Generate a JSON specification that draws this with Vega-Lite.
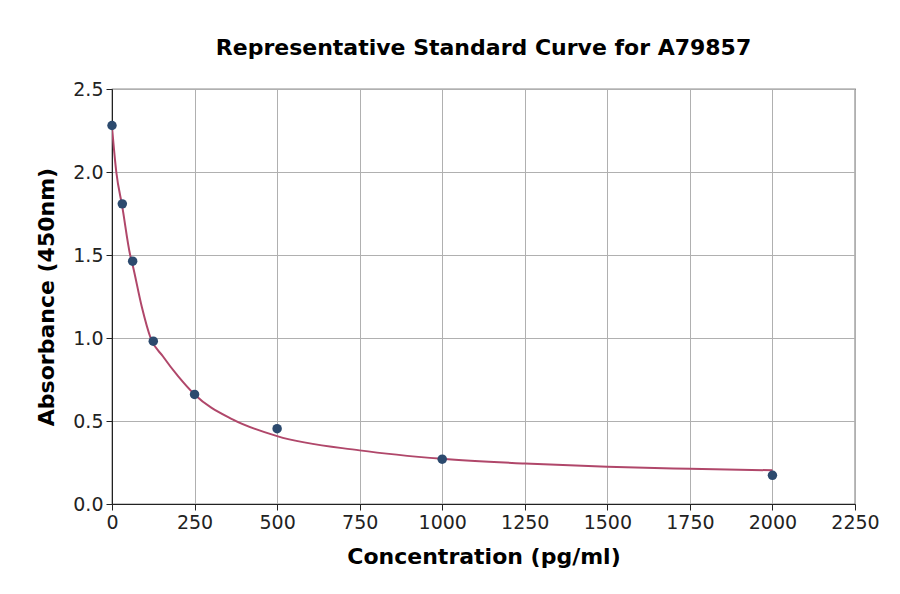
{
  "$schema": "https://vega.github.io/schema/vega-lite/v6.json",
  "width": 743,
  "height": 415,
  "autosize": {"type": "none"},
  "padding": {"left": 112, "top": 89, "right": 45, "bottom": 90},
  "background": "white",
  "title": {
    "text": "Representative Standard Curve for A79857",
    "font": "DejaVu Sans",
    "fontSize": 22,
    "fontWeight": "bold",
    "color": "black",
    "anchor": "middle",
    "offset": 20
  },
  "config": {
    "view": {"stroke": "#222222", "strokeWidth": 1.2},
    "axis": {
      "labelFont": "DejaVu Sans",
      "labelFontSize": 19,
      "labelColor": "#222222",
      "titleFont": "DejaVu Sans",
      "titleFontSize": 22,
      "titleFontWeight": "bold",
      "titleColor": "black",
      "domainColor": "#222222",
      "tickColor": "#222222",
      "tickSize": 6,
      "gridColor": "#b0b0b0",
      "gridWidth": 1,
      "labelPadding": 3,
      "labelFlush": false
    }
  },
  "datasets": {
    "standards": [
      {"conc": 0, "od": 2.28},
      {"conc": 31.25, "od": 1.808},
      {"conc": 62.5, "od": 1.463},
      {"conc": 125, "od": 0.981},
      {"conc": 250, "od": 0.66},
      {"conc": 500, "od": 0.454},
      {"conc": 1000, "od": 0.27},
      {"conc": 2000, "od": 0.173}
    ],
    "fit": [
      {"conc": 0, "od": 2.27},
      {"conc": 13, "od": 2.0},
      {"conc": 31.25, "od": 1.79},
      {"conc": 55, "od": 1.5},
      {"conc": 62.5, "od": 1.44},
      {"conc": 90, "od": 1.19},
      {"conc": 117, "od": 1.0},
      {"conc": 154, "od": 0.89},
      {"conc": 200, "od": 0.77},
      {"conc": 250, "od": 0.66},
      {"conc": 365, "od": 0.51},
      {"conc": 500, "od": 0.409},
      {"conc": 750, "od": 0.323},
      {"conc": 1000, "od": 0.272},
      {"conc": 1250, "od": 0.244},
      {"conc": 1500, "od": 0.224},
      {"conc": 1750, "od": 0.212},
      {"conc": 2000, "od": 0.203}
    ]
  },
  "encoding": {
    "x": {
      "field": "conc",
      "type": "quantitative",
      "title": "Concentration (pg/ml)",
      "scale": {"domain": [0, 2250], "nice": false, "zero": false},
      "axis": {"values": [0, 250, 500, 750, 1000, 1250, 1500, 1750, 2000, 2250], "format": "d", "titlePadding": 14}
    },
    "y": {
      "field": "od",
      "type": "quantitative",
      "title": "Absorbance (450nm)",
      "scale": {"domain": [0, 2.5], "nice": false},
      "axis": {"values": [0, 0.5, 1, 1.5, 2, 2.5], "format": ".1f", "titlePadding": 14}
    }
  },
  "layer": [
    {
      "data": {"name": "fit"},
      "mark": {"type": "line", "color": "#b0476a", "strokeWidth": 2, "interpolate": "monotone", "clip": true}
    },
    {
      "data": {"name": "standards"},
      "mark": {"type": "circle", "color": "#2c4a6e", "size": 90, "opacity": 1}
    }
  ]
}
